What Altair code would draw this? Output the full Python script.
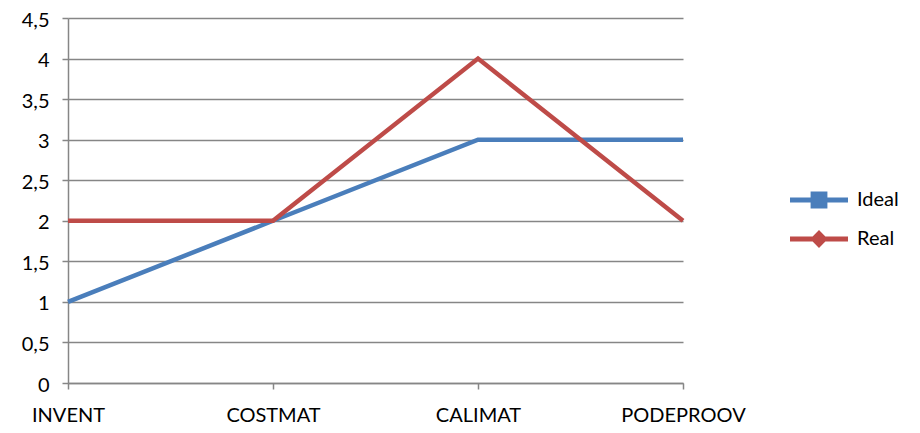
import altair as alt
import pandas as pd

categories = ["INVENT", "COSTMAT", "CALIMAT", "PODEPROOV"]
ideal = [1, 2, 3, 3]
real = [2, 2, 4, 2]
series = ["Ideal", "Real"]
colors = ["#4A7EBB", "#BE4B48"]

rows = []
for c, v in zip(categories, ideal):
    rows.append({"cat": c, "value": v, "series": "Ideal"})
for c, v in zip(categories, real):
    rows.append({"cat": c, "value": v, "series": "Real"})
df = pd.DataFrame(rows)

FONT = "Lato"
FS = 20

ideal_path = "M-1,-0.085H-0.29V-0.29H0.29V-0.085H1V0.085H0.29V0.29H-0.29V0.085H-1Z"
real_path = "M-1,-0.085H-0.22L0,-0.31L0.22,-0.085H1V0.085H0.22L0,0.31L-0.22,0.085H-1Z"

x = alt.X("cat:O", sort=categories, title=None,
          scale=alt.Scale(padding=0),
          axis=alt.Axis(labelAngle=0, labelFont=FONT, labelFontSize=FS, labelColor="#000000",
                        domainColor="#868686", domainWidth=1.5, tickColor="#868686", tickWidth=1.5,
                        tickSize=6, labelPadding=16, grid=False))
y = alt.Y("value:Q", title=None,
          scale=alt.Scale(domain=[0, 4.5], nice=False),
          axis=alt.Axis(values=[0, 0.5, 1, 1.5, 2, 2.5, 3, 3.5, 4, 4.5],
                        labelExpr="replace(toString(datum.value), '.', ',')",
                        labelFont=FONT, labelFontSize=FS, labelColor="#000000", labelPadding=13,
                        labelOffset=2,
                        domainColor="#868686", domainWidth=1.5, tickColor="#868686", tickWidth=1.5,
                        tickSize=6, gridColor="#868686", gridWidth=1.5))
leg = alt.Legend(title=None, orient="none", legendX=722, legendY=153,
                 labelFont=FONT, labelFontSize=FS, labelColor="#000000",
                 symbolSize=3364, symbolStrokeWidth=0, symbolOpacity=1, labelOffset=9,
                 padding=0, rowPadding=-15)
color = alt.Color("series:N", scale=alt.Scale(domain=series, range=colors), legend=leg)
shape = alt.Shape("series:N", scale=alt.Scale(domain=series, range=[ideal_path, real_path]), legend=leg)

base = alt.Chart(df)
lines = base.mark_line(strokeWidth=4.5).encode(x=x, y=y, color=color)
pts = base.mark_point(filled=True, opacity=0, size=1).encode(x=x, y=y, color=color, shape=shape)

chart = alt.layer(lines, pts).properties(
    width=615, height=365,
    autosize=alt.AutoSizeParams(type="none"),
    padding={"left": 60, "top": 10, "right": 229, "bottom": 42},
).configure_view(stroke=None)

chart.save("out.html", embed_options={"renderer": "svg", "actions": False})
